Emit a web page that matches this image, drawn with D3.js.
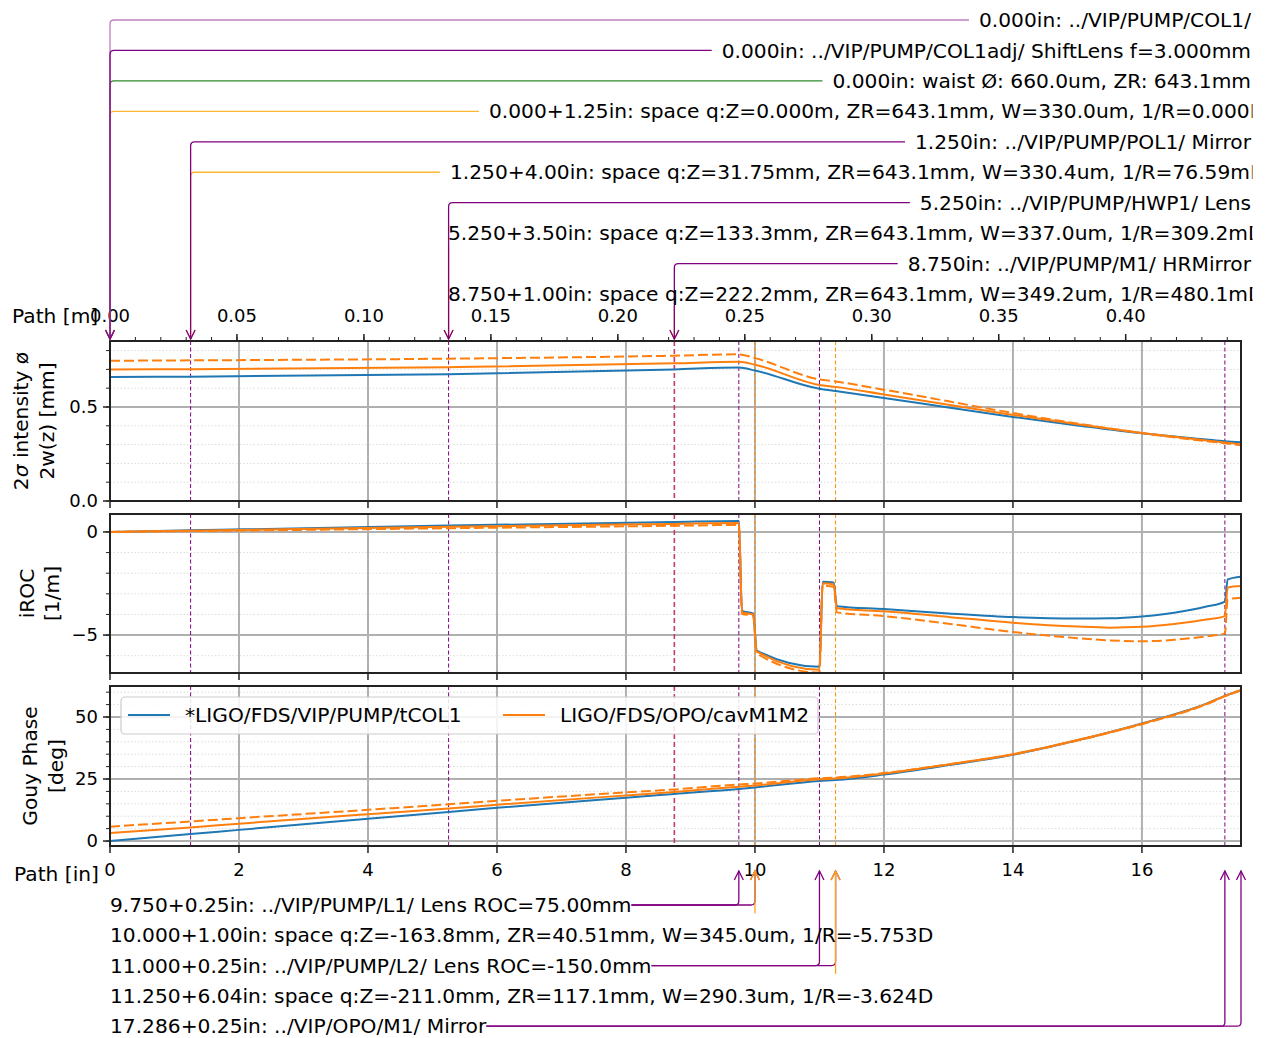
<!DOCTYPE html>
<html>
<head>
<meta charset="utf-8">
<script src="https://cdn.jsdelivr.net/npm/d3@7"></script>
<style>
  body { margin: 0; background: #fff; }
  svg text { font-family: "DejaVu Sans", sans-serif; font-size: 20.2px; fill: #000; }
  svg text.tick { font-size: 18px; }
</style>
</head>
<body>
<div id="chart"></div>
<script>
// ---- Data (path position in inches) ----
const pathEnd = 17.536;

// beam diameter 2w(z) [mm]
const wX          = [0, 1.25, 5.25, 8.75, 9.75, 10.0, 11.0, 11.25, 12, 13, 14, 15, 16, 17, 17.286, 17.536];
const wBlue       = [0.660, 0.661, 0.674, 0.700, 0.710, 0.694, 0.597, 0.585, 0.548, 0.497, 0.447, 0.402, 0.360, 0.327, 0.318, 0.313];
const wOrange     = [0.700, 0.701, 0.712, 0.732, 0.741, 0.725, 0.617, 0.607, 0.566, 0.512, 0.458, 0.408, 0.362, 0.322, 0.311, 0.302];
const wOrangeDash = [0.746, 0.748, 0.757, 0.773, 0.780, 0.760, 0.647, 0.636, 0.592, 0.530, 0.468, 0.412, 0.361, 0.318, 0.307, 0.297];

// inverse radius of curvature [1/m]
const rocX          = [0, 1.25, 5.25, 8.75, 9.75, 9.80, 9.97, 10.03, 11.0, 11.05, 11.22, 11.27, 12, 13, 14, 15, 15.5, 16, 16.5, 17, 17.286, 17.33, 17.536];
const rocBlue       = [0, 0.077, 0.309, 0.480, 0.53, -3.83, -3.95, -5.75, -6.54, -2.41, -2.45, -3.60, -3.74, -3.95, -4.13, -4.20, -4.19, -4.10, -3.92, -3.62, -3.38, -2.30, -2.17];
const rocOrange     = [0, 0.06, 0.25, 0.39, 0.43, -3.90, -4.00, -5.80, -6.68, -2.49, -2.55, -3.70, -3.85, -4.12, -4.40, -4.59, -4.64, -4.60, -4.46, -4.25, -4.08, -2.69, -2.62];
const rocOrangeDash = [0, 0.04, 0.18, 0.30, 0.34, -3.98, -4.06, -5.90, -6.82, -2.60, -2.66, -3.90, -4.08, -4.45, -4.85, -5.15, -5.26, -5.30, -5.23, -5.06, -4.92, -3.27, -3.19];

// Gouy phase [deg]
const gouyX          = [0, 1.25, 2, 4, 5.25, 6, 8, 8.75, 9.75, 10, 11, 11.25, 12, 13, 14, 15, 16, 17, 17.286, 17.536];
const gouyBlue       = [0, 2.8, 4.5, 9.0, 11.7, 13.4, 17.5, 19.0, 21.0, 21.6, 24.2, 24.6, 26.8, 30.6, 34.8, 40.6, 47.4, 55.4, 58.5, 60.8];
const gouyOrange     = [3.2, 5.5, 7.0, 10.8, 13.1, 14.6, 18.4, 19.8, 21.9, 22.4, 24.9, 25.2, 27.2, 30.9, 35.0, 40.7, 47.3, 55.3, 58.5, 60.9];
const gouyOrangeDash = [5.8, 7.9, 9.2, 12.6, 14.8, 16.2, 19.6, 20.8, 22.8, 23.2, 25.3, 25.6, 27.4, 30.9, 34.9, 40.5, 47.1, 55.1, 58.3, 60.7];

const legendNames = ["*LIGO/FDS/VIP/PUMP/tCOL1", "LIGO/FDS/OPO/cavM1M2"];

// tick labels
const inTicks = [0, 2, 4, 6, 8, 10, 12, 14, 16];
const mTicks = [0, 0.05, 0.10, 0.15, 0.20, 0.25, 0.30, 0.35, 0.40];
const wTicks = [0, 0.5];
const rocTicks = [-5, 0];
const gouyTicks = [0, 25, 50];

// annotations above the plot
const topLabels = [
  "0.000in: ../VIP/PUMP/COL1/",
  "0.000in: ../VIP/PUMP/COL1adj/ ShiftLens f=3.000mm",
  "0.000in: waist Ø: 660.0um, ZR: 643.1mm",
  "0.000+1.25in: space q:Z=0.000m, ZR=643.1mm, W=330.0um, 1/R=0.000D",
  "1.250in: ../VIP/PUMP/POL1/ Mirror",
  "1.250+4.00in: space q:Z=31.75mm, ZR=643.1mm, W=330.4um, 1/R=76.59mD",
  "5.250in: ../VIP/PUMP/HWP1/ Lens",
  "5.250+3.50in: space q:Z=133.3mm, ZR=643.1mm, W=337.0um, 1/R=309.2mD",
  "8.750in: ../VIP/PUMP/M1/ HRMirror",
  "8.750+1.00in: space q:Z=222.2mm, ZR=643.1mm, W=349.2um, 1/R=480.1mD"
];
const topAt   = [0, 0, 0, 0, 1.25, 1.25, 5.25, 5.25, 8.75, 8.75];
const topKind = ["col", "comp", "waist", "space", "comp", "space", "comp", "space", "comp", "space"];

// annotations below the plot
const bottomLabels = [
  "9.750+0.25in: ../VIP/PUMP/L1/ Lens ROC=75.00mm",
  "10.000+1.00in: space q:Z=-163.8mm, ZR=40.51mm, W=345.0um, 1/R=-5.753D",
  "11.000+0.25in: ../VIP/PUMP/L2/ Lens ROC=-150.0mm",
  "11.250+6.04in: space q:Z=-211.0mm, ZR=117.1mm, W=290.3um, 1/R=-3.624D",
  "17.286+0.25in: ../VIP/OPO/M1/ Mirror"
];
const bottomAt   = [9.75, 10.0, 11.0, 11.25, 17.286];
const bottomLen  = [0.25, 1.0, 0.25, 6.036, 0.25];
const bottomKind = ["comp", "space", "comp", "space", "comp"];

// component markers inside the panels
const markAt   = [1.25, 5.25, 8.75, 9.75, 10.0, 11.0, 11.25, 17.286];
const markKind = ["comp", "comp", "hr", "comp", "space", "comp", "space", "comp"];

// ---- Layout ----
const W = 1266, H = 1038;
const left = 110, right = 1241;
const blue = "#1f77b4", orange = "#ff7f0e", purple = "#800080";

const svg = d3.select("#chart").append("svg")
  .attr("width", W).attr("height", H);

const x = d3.scaleLinear().domain([0, pathEnd]).range([left, right]);
const xm = d3.scaleLinear().domain([0, pathEnd * 0.0254]).range([left, right]);

const panels = [
  { top: 341, bottom: 501, domain: [0, 0.851], ticks: wTicks, minor: d3.range(0, 0.85, 0.1), fmt: d3.format(".1f"),
    xs: wX, series: [wBlue, wOrange, wOrangeDash], label: ["2σ intensity ø", "2w(z) [mm]"], labelX: [21, 47] },
  { top: 514, bottom: 673, domain: [-6.84, 0.87], ticks: rocTicks, minor: d3.range(-6, 1, 1), fmt: d => d < 0 ? "\u2212" + Math.abs(d) : String(d),
    xs: rocX, series: [rocBlue, rocOrange, rocOrangeDash], label: ["iROC", "[1/m]"], labelX: [27, 52] },
  { top: 686, bottom: 846, domain: [-2.0, 62.5], ticks: gouyTicks, minor: d3.range(0, 61, 5), fmt: d => String(d),
    xs: gouyX, series: [gouyBlue, gouyOrange, gouyOrangeDash], label: ["Gouy Phase", "[deg]"], labelX: [30, 56] }
];
const seriesStyle = [
  { color: blue, dash: null },
  { color: orange, dash: null },
  { color: orange, dash: "10,4" }
];

panels.forEach((p, pi) => {
  const y = d3.scaleLinear().domain(p.domain).range([p.bottom, p.top]);
  const g = svg.append("g");

  g.append("clipPath").attr("id", "clip" + pi)
    .append("rect").attr("x", left).attr("y", p.top)
    .attr("width", right - left).attr("height", p.bottom - p.top);

  // minor grid
  g.selectAll(".minor").data(p.minor.filter(v => !p.ticks.some(t => Math.abs(t - v) < 1e-9)))
    .join("line")
    .attr("x1", left).attr("x2", right)
    .attr("y1", d => y(d)).attr("y2", d => y(d))
    .attr("stroke", "#dcdcdc").attr("stroke-width", 1).attr("stroke-dasharray", "1.5,2");

  // major grid
  g.selectAll(".hgrid").data(p.ticks).join("line")
    .attr("x1", left).attr("x2", right)
    .attr("y1", d => y(d)).attr("y2", d => y(d))
    .attr("stroke", "#b0b0b0").attr("stroke-width", 2);
  g.selectAll(".vgrid").data(inTicks).join("line")
    .attr("x1", d => x(d)).attr("x2", d => x(d))
    .attr("y1", p.top).attr("y2", p.bottom)
    .attr("stroke", "#b0b0b0").attr("stroke-width", 2);

  // component markers
  g.selectAll(".mark").data(markAt).join("line")
    .attr("x1", d => x(d)).attr("x2", d => x(d))
    .attr("y1", p.top).attr("y2", p.bottom)
    .attr("stroke", (d, i) => markKind[i] === "space" ? "#ff8c00" : markKind[i] === "hr" ? "#c43c6e" : purple)
    .attr("stroke-width", (d, i) => markKind[i] === "hr" ? 1.6 : 1)
    .attr("stroke-dasharray", (d, i) => markKind[i] === "hr" ? "5,3" : "4,2.5");

  // data lines
  const line = d3.line()
    .x((d, i) => x(p.xs[i]))
    .y(d => y(d))
    .curve(d3.curveMonotoneX);
  p.series.forEach((s, si) => {
    g.append("path")
      .datum(s)
      .attr("clip-path", `url(#clip${pi})`)
      .attr("d", line)
      .attr("fill", "none")
      .attr("stroke", seriesStyle[si].color)
      .attr("stroke-width", 2)
      .attr("stroke-dasharray", seriesStyle[si].dash);
  });

  // frame
  g.append("rect")
    .attr("x", left).attr("y", p.top)
    .attr("width", right - left).attr("height", p.bottom - p.top)
    .attr("fill", "none").attr("stroke", "#222").attr("stroke-width", 2);

  // y ticks
  g.selectAll(".ytick").data(p.ticks).join("line")
    .attr("x1", left - 7).attr("x2", left)
    .attr("y1", d => y(d)).attr("y2", d => y(d))
    .attr("stroke", "#222").attr("stroke-width", 1.5);
  g.selectAll(".yminor").data(p.minor).join("line")
    .attr("x1", left - 4).attr("x2", left)
    .attr("y1", d => y(d)).attr("y2", d => y(d))
    .attr("stroke", "#222").attr("stroke-width", 1);
  g.selectAll(".ylab").data(p.ticks).join("text")
    .attr("class", "tick")
    .attr("x", left - 12).attr("y", d => y(d))
    .attr("dy", "0.35em")
    .attr("text-anchor", "end")
    .text(p.fmt);

  // x ticks along the bottom edge
  g.selectAll(".xtick").data(inTicks).join("line")
    .attr("x1", d => x(d)).attr("x2", d => x(d))
    .attr("y1", p.bottom).attr("y2", p.bottom + 7)
    .attr("stroke", "#222").attr("stroke-width", 1.5);

  // y label, two lines rotated
  const cy = (p.top + p.bottom) / 2;
  p.label.forEach((txt, li) => {
    const t = g.append("text")
      .attr("transform", `translate(${p.labelX[li]},${cy}) rotate(-90)`)
      .attr("dy", "0.35em")
      .attr("text-anchor", "middle");
    if (txt.startsWith("2σ")) {
      t.append("tspan").text("2");
      t.append("tspan").attr("font-style", "italic").text("σ");
      t.append("tspan").text(txt.slice(2));
    } else {
      t.text(txt);
    }
  });
});

// bottom x labels
svg.selectAll(".xlab").data(inTicks).join("text")
  .attr("class", "tick")
  .attr("x", d => x(d)).attr("y", 870)
  .attr("dy", "0.35em")
  .attr("text-anchor", "middle")
  .text(d => d);
svg.append("text").attr("x", 14).attr("y", 874).attr("dy", "0.35em").text("Path [in]");

// top axis in meters
const axisTop = panels[0].top;
svg.selectAll(".mtick").data(mTicks).join("line")
  .attr("x1", d => xm(d)).attr("x2", d => xm(d))
  .attr("y1", axisTop - 7).attr("y2", axisTop)
  .attr("stroke", "#222").attr("stroke-width", 1.5);
svg.selectAll(".mminor").data(d3.range(0, 0.445, 0.01)).join("line")
  .attr("x1", d => xm(d)).attr("x2", d => xm(d))
  .attr("y1", axisTop - 4).attr("y2", axisTop)
  .attr("stroke", "#222").attr("stroke-width", 1);
svg.append("text").attr("x", 12).attr("y", 316).attr("dy", "0.35em").text("Path [m]");
svg.selectAll(".mlab").data(mTicks).join("text")
  .attr("class", "tick")
  .attr("x", d => xm(d)).attr("y", 316)
  .attr("dy", "0.35em")
  .attr("text-anchor", "middle")
  .text(d3.format(".2f"));

// legend in the Gouy panel
const lg = svg.append("g");
lg.append("rect")
  .attr("x", 121).attr("y", 697).attr("width", 697).attr("height", 37)
  .attr("rx", 4).attr("fill", "#fff").attr("fill-opacity", 0.85)
  .attr("stroke", "#cccccc").attr("stroke-width", 1.2);
[[128, blue], [503, orange]].forEach(([lx, c], i) => {
  lg.append("line").attr("x1", lx).attr("x2", lx + 42).attr("y1", 715).attr("y2", 715)
    .attr("stroke", c).attr("stroke-width", 2);
  lg.append("text").attr("x", lx + 57).attr("y", 715).attr("dy", "0.35em").text(legendNames[i]);
});

// ---- Annotations ----
const r = 4;
function elbow(x0, y0, ax, yTip) {
  const dir = ax >= x0 ? 1 : -1;
  const vdir = yTip > y0 ? 1 : -1;
  return `M${x0},${y0}H${ax - dir * r}Q${ax},${y0} ${ax},${y0 + vdir * r}V${yTip}`;
}
function arrowHead(ax, yTip, vdir) {
  return `M${ax - 4.5},${yTip - vdir * 9}L${ax},${yTip}L${ax + 4.5},${yTip - vdir * 9}`;
}
const kindColor = { col: "#bf7fbf", comp: purple, waist: "#2e8b2e", space: "#ffb733" };

svg.append("clipPath").attr("id", "noteclip")
  .append("rect").attr("x", 0).attr("y", 0).attr("width", 1252.5).attr("height", H);

const topTip = 339;
const topRowY = i => 20 + i * 30.45;
const topTextStart = { 3: 489, 5: 450, 7: 448, 9: 448 };
const topNotes = svg.append("g");
const topLinks = topNotes.append("g");
const topTexts = topNotes.append("g").attr("clip-path", "url(#noteclip)");
const topOrder = [3, 5, 7, 9, 2, 0, 1, 4, 6, 8];

const topStart = topLabels.map((lbl, i) => {
  const t = topTexts.append("text").attr("y", topRowY(i)).attr("dy", "0.35em").text(lbl);
  if (topTextStart[i] !== undefined) {
    t.attr("x", topTextStart[i]);
    return topTextStart[i];
  }
  t.attr("x", 1251).attr("text-anchor", "end");
  return 1251 - t.node().getComputedTextLength();
});

topOrder.forEach(i => {
  const ax = x(topAt[i]);
  const y0 = topRowY(i);
  const c = kindColor[topKind[i]];
  const x0 = topStart[i] - 10;
  const d = x0 > ax + r ? elbow(x0, y0, ax, topTip) : `M${ax},${y0 + 12}V${topTip}`;
  topLinks.append("path").attr("d", d)
    .attr("fill", "none").attr("stroke", c).attr("stroke-width", 1.3);
  topLinks.append("path").attr("d", arrowHead(ax, topTip, 1))
    .attr("fill", "none").attr("stroke", c).attr("stroke-width", 1.3);
});

// below the plot
const botTip = 871;
const botRowY = i => 905 + i * 30.3;
const botNotes = svg.append("g");
const botLinksP = botNotes.append("g");
const botLinksO = botNotes.append("g");
bottomLabels.forEach((lbl, i) => {
  const y0 = botRowY(i);
  const t = botNotes.append("text").attr("x", left).attr("y", y0).attr("dy", "0.35em").text(lbl);
  const xEnd = left + t.node().getComputedTextLength();
  if (bottomKind[i] === "comp") {
    [bottomAt[i], bottomAt[i] + bottomLen[i]].forEach(pos => {
      const ax = x(pos);
      botLinksP.append("path").attr("d", elbow(xEnd, y0, ax, botTip))
        .attr("fill", "none").attr("stroke", purple).attr("stroke-width", 1.3);
      botLinksP.append("path").attr("d", arrowHead(ax, botTip, -1))
        .attr("fill", "none").attr("stroke", purple).attr("stroke-width", 1.3);
    });
  } else {
    const ax = x(bottomAt[i]);
    botLinksO.append("path").attr("d", `M${ax},${y0 - 22}V${botTip}`)
      .attr("fill", "none").attr("stroke", "#ffa31a").attr("stroke-width", 1.3);
    botLinksO.append("path").attr("d", arrowHead(ax, botTip, -1))
      .attr("fill", "none").attr("stroke", "#ffa31a").attr("stroke-width", 1.3);
  }
});
</script>
</body>
</html>
